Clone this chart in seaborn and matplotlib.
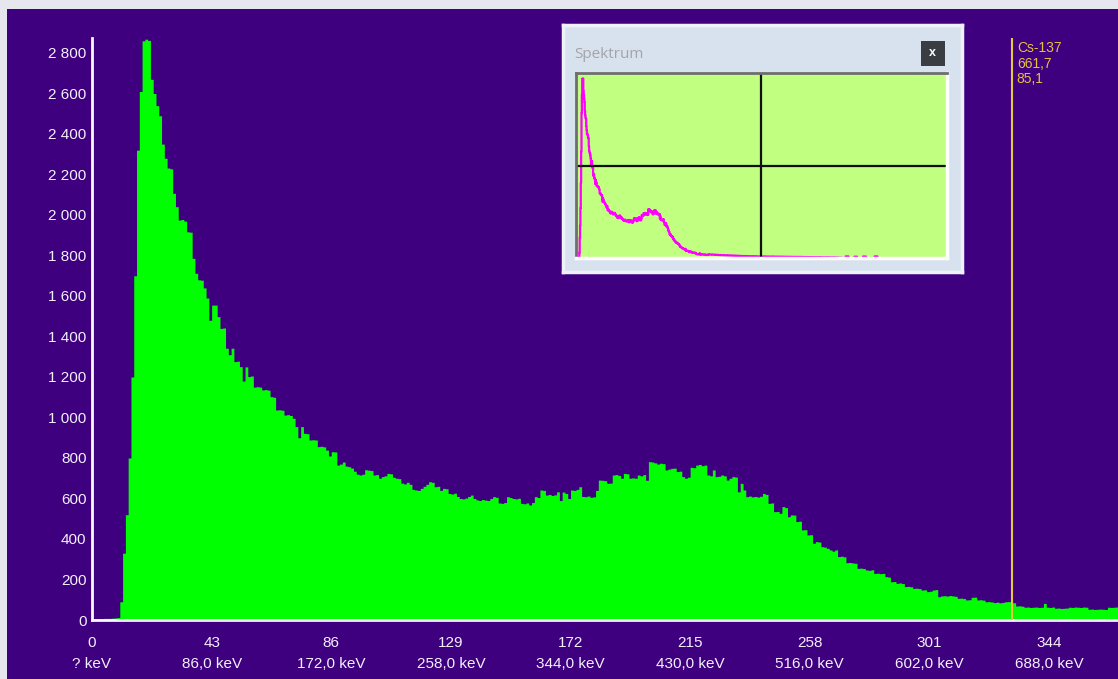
import numpy as np
import pandas as pd
import seaborn as sns
import matplotlib.pyplot as plt
from matplotlib.patches import Rectangle

# Kanal-Inhalte (Impulse je Kanal), Kanal 0 .. 368
counts = [
    6, 6, 7, 7, 8, 8, 8, 9, 10, 12,
    90, 330, 520, 800, 1200, 1700, 2320, 2610, 2860, 2868,
    2862, 2670, 2600, 2540, 2490, 2350, 2280, 2232, 2228, 2107,
    2041, 1975, 1978, 1970, 1917, 1915, 1786, 1712, 1680, 1678,
    1640, 1590, 1480, 1555, 1555, 1498, 1440, 1442, 1342, 1310,
    1342, 1276, 1278, 1251, 1180, 1250, 1202, 1205, 1150, 1152,
    1150, 1136, 1138, 1135, 1103, 1100, 1037, 1038, 1036, 1012,
    1014, 1010, 996, 955, 900, 955, 922, 920, 889, 890,
    889, 856, 858, 855, 839, 810, 831, 830, 765, 770,
    780, 760, 757, 750, 735, 720, 716, 720, 742, 740,
    738, 716, 718, 700, 708, 712, 724, 722, 705, 700,
    698, 676, 672, 680, 670, 645, 642, 640, 650, 660,
    670, 683, 680, 658, 660, 640, 650, 648, 625, 622,
    626, 610, 600, 598, 602, 610, 617, 600, 593, 590,
    595, 592, 590, 600, 609, 606, 578, 576, 580, 609,
    605, 600, 598, 601, 576, 574, 578, 568, 580, 609,
    605, 642, 640, 617, 620, 615, 618, 633, 590, 632,
    625, 600, 642, 640, 645, 658, 610, 609, 612, 606,
    608, 640, 691, 690, 688, 675, 676, 716, 718, 714,
    700, 724, 722, 700, 702, 700, 716, 712, 718, 690,
    782, 780, 776, 770, 774, 772, 741, 745, 749, 750,
    733, 735, 708, 700, 705, 754, 752, 765, 768, 762,
    765, 716, 712, 741, 708, 710, 716, 712, 691, 700,
    708, 706, 633, 675, 642, 609, 612, 608, 610, 607,
    611, 625, 620, 576, 578, 535, 536, 527, 560, 555,
    510, 519, 518, 486, 488, 445, 446, 420, 421, 379,
    387, 385, 362, 360, 354, 346, 340, 346, 313, 315,
    312, 283, 284, 282, 280, 255, 256, 254, 247, 245,
    248, 230, 231, 229, 230, 214, 212, 189, 190, 181,
    183, 180, 165, 166, 164, 156, 157, 155, 148, 149,
    140, 142, 148, 150, 115, 119, 120, 118, 121, 119,
    117, 107, 108, 106, 99, 100, 112, 113, 99, 100,
    98, 90, 91, 89, 86, 88, 85, 87, 90, 91,
    89, 85, 69, 70, 68, 63, 64, 62, 63, 64,
    62, 63, 82, 63, 62, 64, 58, 59, 57, 58,
    59, 63, 62, 64, 63, 62, 64, 63, 53, 54,
    52, 53, 54, 53, 52, 63, 62, 63, 64,
]

# Rest des Spektrums (nur im kleinen Fenster sichtbar), je 8 Kanaele ab Kanal 369
tail_counts = [
    60, 58, 55, 52, 50, 48, 46, 44, 42, 40,
    38, 36, 35, 34, 33, 32, 30, 30, 29, 28,
    27, 27, 26, 25, 25, 24, 24, 23, 22, 22,
    21, 21, 20, 20, 19, 18, 18, 17, 16, 16,
    15, 14, 14, 12, 10, 8, 0, 30, 0, 0,
    25, 0, 0, 28, 0, 0, 0, 30, 0,
]
tail_step = 8

x_ticks = [0, 43, 86, 129, 172, 215, 258, 301, 344]
kev_labels = ["? keV", "86,0 keV", "172,0 keV", "258,0 keV", "344,0 keV",
              "430,0 keV", "516,0 keV", "602,0 keV", "688,0 keV"]
y_ticks = [0, 200, 400, 600, 800, 1000, 1200, 1400, 1600, 1800,
           2000, 2200, 2400, 2600, 2800]
y_labels = ["0", "200", "400", "600", "800", "1 000", "1 200", "1 400", "1 600",
            "1 800", "2 000", "2 200", "2 400", "2 600", "2 800"]

marker_channel = 330.85
marker_text = "Cs-137\n661,7\n85,1"

BG = "#3F0080"
GREEN = "#00FF00"
TXT = "#F2F0FA"

sns.set_theme(style="white")
plt.rcParams["font.family"] = ["Liberation Sans", "DejaVu Sans"]

W, H = 1118, 679


def fx(px):
    return px / W


def fy(py):
    return 1 - py / H


fig = plt.figure(figsize=(11.18, 6.79), dpi=100, facecolor=BG)

# heller Fensterrand oben und links
fig.add_artist(Rectangle((0, fy(9)), 1, 9 / H, transform=fig.transFigure,
                         facecolor="#E6E6EE", edgecolor="none", zorder=1))
fig.add_artist(Rectangle((0, 0), 7 / W, 1, transform=fig.transFigure,
                         facecolor="#E6E6EE", edgecolor="none", zorder=1))

# Hauptspektrum
ax = fig.add_axes([fx(92), fy(620), fx(1118) - fx(92), fy(38) - fy(620)])
ax.set_facecolor(BG)
df = pd.DataFrame({"kanal": np.arange(len(counts)), "impulse": counts})
sns.histplot(data=df, x="kanal", weights="impulse", binwidth=1,
             binrange=(0, len(counts)), element="step", fill=True,
             color=GREEN, alpha=1, linewidth=0, ax=ax)
ax.set_xlim(0, 368.8)
ax.set_ylim(0, 2874)
ax.set_xlabel("")
ax.set_ylabel("")

for s in ["top", "right"]:
    ax.spines[s].set_visible(False)
for s in ["left", "bottom"]:
    ax.spines[s].set_color("#F8F8FF")
    ax.spines[s].set_linewidth(2)

ax.set_yticks(y_ticks, labels=y_labels)
ax.set_xticks(x_ticks, labels=[f"{c}\n{k}" for c, k in zip(x_ticks, kev_labels)])
ax.tick_params(axis="y", length=0, pad=4, labelcolor=TXT, labelsize=11)
ax.tick_params(axis="x", length=4, width=1, color="#C8C8D8", pad=7.5,
               labelcolor=TXT, labelsize=11)
for lab in ax.get_xticklabels():
    lab.set_linespacing(1.6)

ax.axvline(marker_channel, color="#E6C83C", lw=1.5, zorder=3)
ax.text(marker_channel + 1.6, 2858, marker_text, va="top", ha="left",
        color="#E8C040", fontsize=10, linespacing=1.12, zorder=4)

# kleines Fenster "Spektrum"
win = fig.add_axes([fx(563.3), fy(271.7), fx(961.7) - fx(563.3), fy(25) - fy(271.7)])
win.set_facecolor("#D8E2EE")
win.set_xticks([])
win.set_yticks([])
for s in win.spines.values():
    s.set_color("#EEF2F8")
    s.set_linewidth(2.5)
fig.text(fx(574), fy(55), "Spektrum", color="#A4A4A8", fontsize=11,
         family=["Open Sans", "DejaVu Sans"], va="center", ha="left", zorder=10)
fig.add_artist(Rectangle((fx(920.7), fy(65.7)), fx(945) - fx(920.7), fy(41) - fy(65.7),
                         transform=fig.transFigure, facecolor="#3A3D42",
                         edgecolor="none", zorder=10))
fig.text(fx(932.8), fy(53.5), "x", color="white", fontsize=9, fontweight="bold",
         ha="center", va="center", zorder=11)

ax_in = fig.add_axes([fx(575.7), fy(258.3), fx(946.7) - fx(575.7), fy(73.3) - fy(258.3)])
ax_in.set_facecolor("#C0FF80")
spect = np.concatenate([counts, np.repeat(tail_counts, tail_step)])
sns.lineplot(x=np.arange(len(spect)), y=spect, drawstyle="steps-post",
             color="#FF00FF", lw=1.6, ax=ax_in)
ax_in.set_xlim(0, 1024)
ax_in.set_ylim(0, 2950)
ax_in.axvline(512, color="#101010", lw=1.6)
ax_in.axhline(2950 / 2, color="#101010", lw=1.6)
ax_in.set_xticks([])
ax_in.set_yticks([])
ax_in.set_xlabel("")
ax_in.set_ylabel("")
for s in ["left", "top"]:
    ax_in.spines[s].set_color("#6E6E6E")
    ax_in.spines[s].set_linewidth(2)
for s in ["right", "bottom"]:
    ax_in.spines[s].set_color("#FFFFFF")
    ax_in.spines[s].set_linewidth(2.5)

fig.savefig("out.png", dpi=100, facecolor=BG)
